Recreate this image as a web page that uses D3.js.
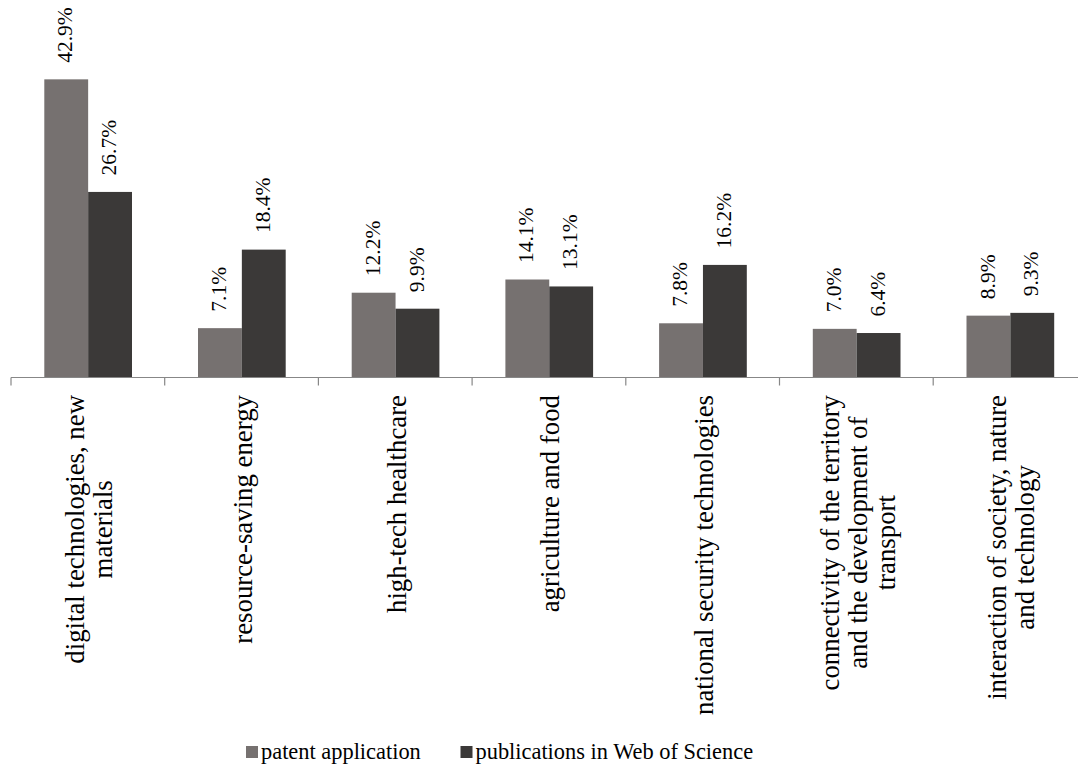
<!DOCTYPE html>
<html>
<head>
<meta charset="utf-8">
<script src="https://cdn.jsdelivr.net/npm/d3@7"></script>
</head>
<body style="margin:0">
<svg id="chart" width="1078" height="767"></svg>
<script>
// ---- data ----
const categories = [
  "digital technologies, new materials",
  "resource-saving energy",
  "high-tech healthcare",
  "agriculture and food",
  "national security technologies",
  "connectivity of the territory and the development of transport",
  "interaction of society, nature and technology"
];
const categoryLines = [
  ["digital technologies, new", "materials"],
  ["resource-saving energy"],
  ["high-tech healthcare"],
  ["agriculture and food"],
  ["national security technologies"],
  ["connectivity of the territory", "and the development of", "transport"],
  ["interaction of society, nature", "and technology"]
];
const seriesNames = ["patent application", "publications in Web of Science"];
const patentValues = [42.9, 7.1, 12.2, 14.1, 7.8, 7.0, 8.9];
const publicationValues = [26.7, 18.4, 9.9, 13.1, 16.2, 6.4, 9.3];
const seriesColors = ["#767170", "#3b3938"];

// ---- layout ----
const FONT = "'Liberation Serif'";
const svg = d3.select("#chart");
const axisY = 377.5;
const xCat = d3.scaleBand().domain(categories).range([11, 1086.9]).padding(0);
const xSer = d3.scaleBand().domain(seriesNames).range([33.3, 121]).padding(0);
const y = d3.scaleLinear().domain([0, 50]).range([axisY, axisY - 347.5]);

const seriesValues = [patentValues, publicationValues];
const rows = categories.map((c, i) => ({ cat: c, idx: i, vals: seriesNames.map((s, j) => ({ s, j, v: seriesValues[j][i] })) }));

const g = svg.append("g");
const groups = g.selectAll("g.cat").data(rows).join("g")
  .attr("class", "cat")
  .attr("transform", d => `translate(${xCat(d.cat)},0)`);

groups.selectAll("rect").data(d => d.vals).join("rect")
  .attr("x", d => xSer(d.s))
  .attr("width", xSer.bandwidth())
  .attr("y", d => y(d.v))
  .attr("height", d => axisY - y(d.v))
  .attr("fill", d => seriesColors[d.j]);

// value labels
groups.selectAll("text.val").data(d => d.vals).join("text")
  .attr("class", "val")
  .attr("transform", d => `translate(${xSer(d.s) + xSer.bandwidth() / 2 - 1},${y(d.v) - 16.5}) rotate(-90)`)
  .attr("text-anchor", "start")
  .attr("dy", "0.33em")
  .attr("font-family", FONT)
  .attr("font-size", 21.5)
  .attr("fill", "#000")
  .text(d => d.v.toFixed(1) + "%");

// axis line and ticks
const axis = d3.axisBottom(xCat).tickSize(8).tickFormat("").tickSizeOuter(0);
const axG = svg.append("g").attr("transform", `translate(0,${axisY})`).call(axis);
axG.select(".domain").attr("stroke", "#878787").attr("stroke-width", 1.2).attr("d", "M11,0H1078");
axG.selectAll(".tick").attr("transform", d => `translate(${xCat(d)},0)`);
axG.selectAll(".tick line").attr("stroke", "#878787").attr("stroke-width", 1.2);

// category labels
const labelTop = 395;
const lineStep = 28;
const labG = svg.append("g");
rows.forEach((r, i) => {
  const lines = categoryLines[i];
  const cx = xCat(r.cat) + xCat.bandwidth() / 2 + 1.5;
  const grp = labG.append("g").attr("transform", `translate(${cx},${labelTop}) rotate(-90)`);
  const texts = grp.selectAll("text").data(lines).join("text")
    .attr("text-anchor", "middle")
    .attr("dy", "0.33em")
    .attr("font-family", FONT)
    .attr("font-size", 26.8)
    .attr("fill", "#000")
    .attr("y", (d, k) => (k - (lines.length - 1) / 2) * lineStep)
    .text(d => d);
  let maxLen = 0;
  texts.each(function () { maxLen = Math.max(maxLen, this.getComputedTextLength()); });
  texts.attr("x", -maxLen / 2);
});

// legend
const legend = svg.append("g");
const legendItems = [
  { name: seriesNames[0], color: seriesColors[0], x: 246 },
  { name: seriesNames[1], color: seriesColors[1], x: 460.5 }
];
legendItems.forEach(it => {
  legend.append("rect").attr("x", it.x).attr("y", 746).attr("width", 12).attr("height", 12).attr("fill", it.color);
  legend.append("text").attr("x", it.x + 15).attr("y", 758.5)
    .attr("font-family", FONT).attr("font-size", 22.4).attr("fill", "#000")
    .text(it.name);
});
</script>
</body>
</html>
